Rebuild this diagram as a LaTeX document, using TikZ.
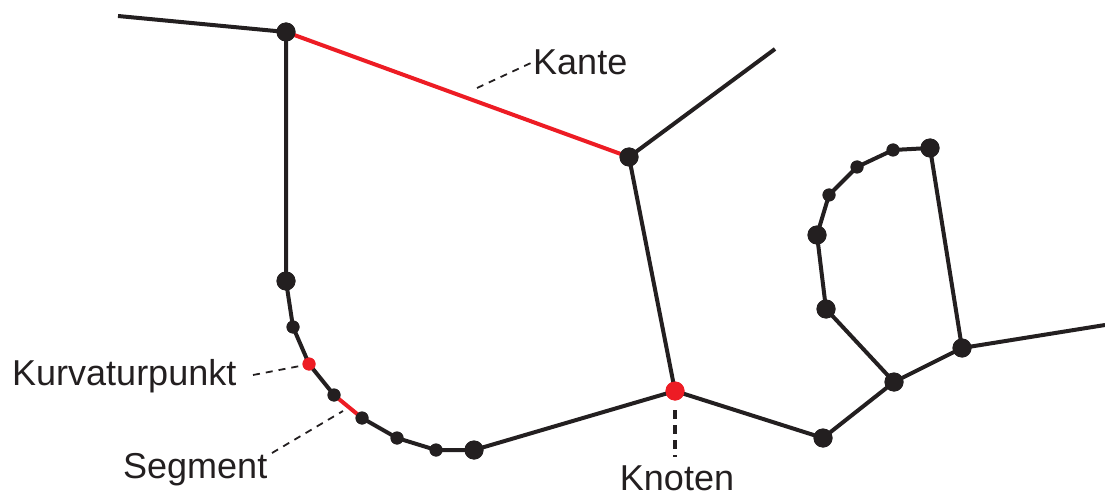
\documentclass[tikz,border=0pt]{standalone}
\usepackage{fontspec}
\setmainfont{Liberation Sans}
\definecolor{ink}{RGB}{35,31,32}
\definecolor{hl}{RGB}{237,28,36}
\begin{document}
\begin{tikzpicture}[x=1pt,y=-1pt,
  big/.style={circle,fill=ink,inner sep=0pt,minimum size=19pt},
  small/.style={circle,fill=ink,inner sep=0pt,minimum size=13pt},
  redbig/.style={circle,fill=hl,inner sep=0pt,minimum size=19pt},
  redsmall/.style={circle,fill=hl,inner sep=0pt,minimum size=13pt},
  edge/.style={draw=ink,line width=4pt},
  redge/.style={draw=hl,line width=4pt},
  lead/.style={draw=ink,line width=1.8pt,dash pattern=on 7pt off 6pt},
  thicklead/.style={draw=ink,line width=4pt,dash pattern=on 9pt off 6pt},
  lbl/.style={font=\fontsize{36}{40}\selectfont,text=ink,inner sep=0pt}]
\useasboundingbox (0,0) rectangle (1105,497);
% free ends
\coordinate (e1) at (118,16);
\coordinate (e2) at (775,49);
\coordinate (e3) at (1105,325);
% nodes
\node[big] (A) at (286,32) {};
\node[big] (B) at (629,157) {};
\node[big] (C) at (286,281) {};
\node[small] (c1) at (293,327) {};
\node[redsmall] (kp) at (309,364) {};
\node[small] (c2) at (334,395) {};
\node[small] (c3) at (362,418) {};
\node[small] (c4) at (397,438) {};
\node[small] (c5) at (436,450) {};
\node[big] (D) at (474,450) {};
\node[redbig] (K) at (675,391) {};
\node[big] (E) at (823,438) {};
\node[big] (F) at (894,382) {};
\node[big] (G) at (962,348) {};
\node[big] (H) at (930,148) {};
\node[small] (h1) at (893,150) {};
\node[small] (h2) at (857,167) {};
\node[small] (h3) at (829,195) {};
\node[big] (I) at (817,235) {};
\node[big] (J) at (826,309) {};
% edges
\path[edge] (e1) -- (A.center);
\path[redge] (A.center) -- (B.center);
\path[edge] (B.center) -- (e2);
\path[edge] (A.center) -- (C.center) -- (c1.center) -- (kp.center) -- (c2.center);
\path[redge] (c2.center) -- (c3.center);
\path[edge] (c3.center) -- (c4.center) -- (c5.center) -- (D.center) -- (K.center);
\path[edge] (B.center) -- (K.center);
\path[edge] (K.center) -- (E.center) -- (F.center) -- (G.center) -- (e3);
\path[edge] (G.center) -- (H.center) -- (h1.center) -- (h2.center) -- (h3.center) -- (I.center) -- (J.center) -- (F.center);
% redraw nodes on top
\foreach \n/\s in {A/big,B/big,C/big,c1/small,kp/redsmall,c2/small,c3/small,c4/small,c5/small,D/big,K/redbig,E/big,F/big,G/big,H/big,h1/small,h2/small,h3/small,I/big,J/big}
  \node[\s] at (\n) {};
% labels
\node[lbl,anchor=west] (tKante) at (533,62) {Kante};
\coordinate (lk) at (477,88);
\path[lead] (lk) -- (tKante.west);
\node[lbl,anchor=west] (tKurv) at (12,376) {Kurvaturpunkt};
\coordinate (lkp0) at (253,375);
\coordinate (lkp) at (300,366);
\path[lead] (lkp0) -- (lkp);
\node[lbl,anchor=west] (tSeg) at (123,470) {Segment};
\coordinate (ls) at (343,411);
\coordinate (ls0) at (272,453);
\path[lead] (ls0) -- (ls);
\node[lbl,anchor=north] (tKn) at (677,466) {Knoten};
\coordinate (lkn) at (675,410);
\coordinate (lkn1) at (675,457);
\path[thicklead] (lkn) -- (lkn1);
\end{tikzpicture}
\end{document}
